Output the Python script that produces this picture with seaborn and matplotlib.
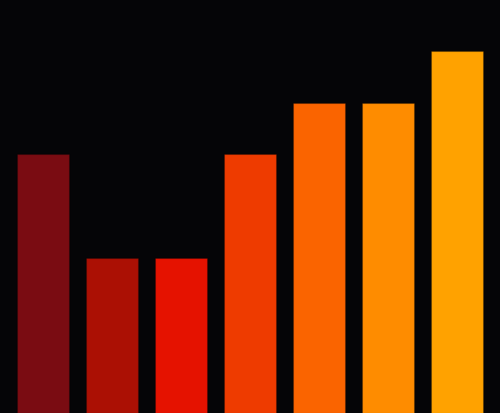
import matplotlib
matplotlib.use("Agg")
import pandas as pd
from matplotlib import pyplot as plt
import seaborn as sns

categories = ["A", "B", "C", "D", "E", "F", "G"]
values = [5, 3, 3, 5, 6, 6, 7]
colors = ["#7a0c12", "#ab1004", "#e51200", "#ee3b00", "#fa6400", "#fe8c00", "#ffa200"]

df = pd.DataFrame({"category": categories, "value": values})

fig = plt.figure(figsize=(5.0, 4.14), dpi=100)
fig.patch.set_facecolor("#050507")
ax = fig.add_axes([0, 0, 1, 1])
ax.set_facecolor("#050507")

sns.barplot(data=df, x="category", y="value", hue="category", palette=colors,
            legend=False, width=0.754, saturation=1, linewidth=0.8,
            edgecolor="#00000030", ax=ax)

ax.set_xlim(-0.623, 6.623)
ax.set_ylim(0, 8)
ax.axis("off")

plt.savefig("out.png", facecolor=fig.get_facecolor())
